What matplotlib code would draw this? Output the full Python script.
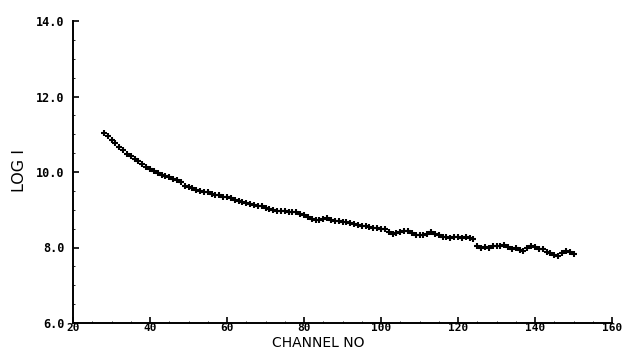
import matplotlib
matplotlib.use("Agg")
import matplotlib.pyplot as plt
from matplotlib.ticker import MultipleLocator

channels = list(range(28, 151))
log_i = [
    11.03, 10.95, 10.86, 10.76, 10.66, 10.58, 10.49, 10.42, 10.35, 10.29,
    10.22, 10.14, 10.08, 10.03, 9.97, 9.93, 9.90, 9.86, 9.82, 9.79,
    9.73, 9.64, 9.60, 9.57, 9.53, 9.50, 9.48, 9.46, 9.43, 9.40,
    9.38, 9.35, 9.33, 9.31, 9.27, 9.22, 9.21, 9.18, 9.15, 9.12,
    9.11, 9.09, 9.05, 9.03, 9.00, 8.98, 8.97, 8.96, 8.95, 8.94,
    8.93, 8.90, 8.86, 8.82, 8.76, 8.72, 8.74, 8.76, 8.77, 8.73,
    8.71, 8.69, 8.68, 8.67, 8.66, 8.63, 8.60, 8.58, 8.56, 8.54,
    8.52, 8.51, 8.49, 8.48, 8.42, 8.37, 8.38, 8.41, 8.44, 8.45,
    8.38, 8.33, 8.32, 8.34, 8.35, 8.41, 8.36, 8.33, 8.29, 8.27,
    8.26, 8.28, 8.27, 8.26, 8.28, 8.24, 8.22, 8.05, 7.98, 8.02,
    8.00, 8.03, 8.05, 8.04, 8.06, 8.01, 7.96, 7.99, 7.93, 7.92,
    8.00, 8.04, 8.02, 7.96, 7.97, 7.88, 7.86, 7.80, 7.77, 7.86,
    7.91, 7.87, 7.84,
]

x_ticks = [20, 40, 60, 80, 100, 120, 140, 160]
x_tick_labels = ["20", "40", "60", "80", "100", "120", "140", "160"]
y_ticks = [6, 8, 10, 12, 14]
y_tick_labels = ["6.0", "8.0", "10.0", "12.0", "14.0"]

fig = plt.figure(figsize=(6.27, 3.49), dpi=100)
ax = fig.add_axes([73/627, 26/349, 539/627, 302/349])

ax.plot(channels, log_i, linestyle="none", marker="+", color="black",
        markersize=5, markeredgewidth=1.5)

ax.set_xlim(20, 160)
ax.set_ylim(6, 14)
ax.set_xticks(x_ticks)
ax.set_xticklabels(x_tick_labels)
ax.set_yticks(y_ticks)
ax.set_yticklabels(y_tick_labels)
ax.xaxis.set_minor_locator(MultipleLocator(5))
ax.yaxis.set_minor_locator(MultipleLocator(0.5))

for s in ["top", "right"]:
    ax.spines[s].set_visible(False)
for s in ["left", "bottom"]:
    ax.spines[s].set_linewidth(1.4)

ax.tick_params(axis="both", which="major", direction="in", length=4, width=1.2)
ax.tick_params(axis="both", which="minor", direction="in", length=1.5, width=0.6)
ax.tick_params(axis="x", pad=0, labelsize=8)
ax.tick_params(axis="y", pad=6, labelsize=8.5)
for lab in ax.get_xticklabels() + ax.get_yticklabels():
    lab.set_fontfamily("DejaVu Sans Mono")
    lab.set_fontweight("bold")

fig.text(318/627, 1 - 343/349, "CHANNEL NO", ha="center", va="center",
         fontsize=10, fontfamily="DejaVu Sans", color="black")
fig.text(20/627, 1 - 171/349, "LOG I", ha="center", va="center", rotation=90,
         fontsize=11.5, fontfamily="DejaVu Sans", color="black")

fig.savefig("out.png", dpi=100, facecolor="white")
